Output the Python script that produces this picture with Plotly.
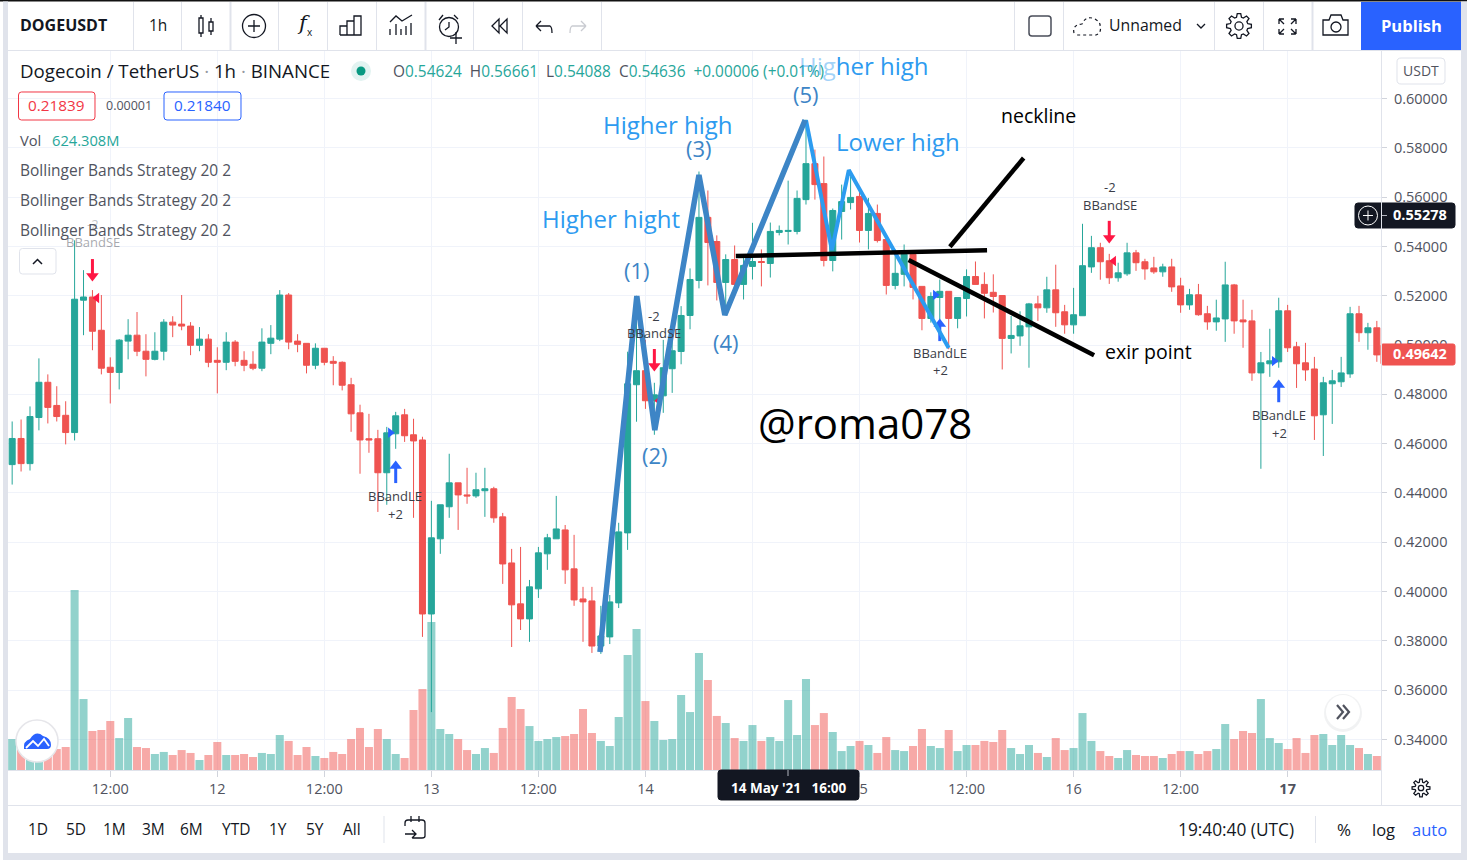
# -*- coding: utf-8 -*-
import math
import re

import pandas as pd
import plotly.graph_objects as go

# hourly candles DOGEUSDT
candle_open = [
    .4515, .4621, .4519, .4706, .4849, .4755, .4715, .4645, .5182, .5195, .5060, .4910, .4889, .5016, .5040, .4975,
    .4942, .4975, .5093, .5085, .5077, .4999, .5024, .4938, .4930, .5012, .4938, .4922, .4906, .5007, .5024, .5203,
    .5016, .5007, .4918, .4987, .4934, .4930, .4839, .4725, .4620, .4620, .4482, .4640, .4717, .4636, .4615, .3909,
    .4214, .4344, .4441, .4392, .4388, .4409, .4417, .4303, .4116, .3950, .3889, .4011, .4153, .4214, .4250, .4092,
    .3970, .3962, .3779, .3816, .3954, .4238, .4839, .4896, .4774, .4794, .4904, .4974, .5120, .5262, .5518, .5420,
    .5254, .5347, .5246, .5319, .5339, .5331, .5457, .5461, .5461, .5590, .5736, .5655, .5343, .5542, .5578, .5603,
    .5465, .5534, .5428, .5242, .5287, .5368, .5238, .5108, .5193, .5218, .5108, .5189, .5278, .5246, .5214, .5201,
    .5027, .5037, .5074, .5167, .5151, .5224, .5135, .5082, .5119, .5317, .5395, .5342, .5273, .5289, .5374, .5338,
    .5313, .5297, .5317, .5240, .5163, .5204, .5127, .5094, .5106, .5244, .5102, .5098, .4887, .4924, .4932, .5139,
    .4993, .4928, .4903, .4717, .4843, .4851, .4883, .5127, .5050, .5070,
]
candle_high = [
    .4690, .4698, .4751, .4946, .4881, .4833, .4772, .5425, .5304, .5223, .5203, .4950, .5024, .5105, .5134, .5044,
    .5052, .5105, .5117, .5203, .5093, .5073, .5044, .4991, .5052, .5020, .4975, .4975, .5068, .5081, .5223, .5211,
    .5044, .5007, .5007, .4987, .4955, .4934, .4867, .4758, .4721, .4656, .4668, .4729, .4741, .4701, .4628, .4368,
    .4352, .4559, .4441, .4502, .4482, .4502, .4425, .4319, .4173, .4181, .4047, .4181, .4234, .4388, .4270, .4230,
    .4019, .4019, .3942, .3986, .4279, .4973, .5200, .5021, .4847, .5021, .5048, .5158, .5311, .5704, .5627, .5445,
    .5368, .5404, .5361, .5496, .5388, .5497, .5485, .5667, .5627, .5915, .5793, .5765, .5554, .5651, .5685, .5631,
    .5597, .5570, .5428, .5388, .5408, .5368, .5238, .5214, .5266, .5218, .5193, .5307, .5339, .5295, .5287, .5201,
    .5118, .5137, .5171, .5200, .5277, .5326, .5163, .5232, .5492, .5443, .5415, .5370, .5334, .5415, .5386, .5350,
    .5358, .5330, .5350, .5273, .5228, .5248, .5159, .5184, .5338, .5248, .5184, .5143, .4972, .5066, .5192, .5163,
    .5013, .5009, .4952, .4871, .4899, .4952, .5155, .5159, .5090, .5098,
]
candle_low = [
    .4434, .4487, .4491, .4654, .4682, .4690, .4597, .4613, .5040, .4979, .4881, .4763, .4820, .4942, .4955, .4873,
    .4938, .4938, .5032, .5060, .4959, .4975, .4910, .4804, .4898, .4914, .4894, .4898, .4894, .4963, .5016, .4983,
    .4971, .4885, .4902, .4918, .4837, .4816, .4648, .4478, .4563, .4323, .4352, .4579, .4607, .4299, .3816, .3511,
    .4153, .4299, .4250, .4356, .4380, .4303, .4279, .4031, .3775, .3844, .3796, .3974, .4088, .4214, .4031, .3942,
    .3796, .3751, .3747, .3787, .3933, .4169, .4689, .4741, .4636, .4725, .4806, .4922, .5064, .5230, .5242, .5181,
    .5145, .5205, .5185, .5266, .5238, .5274, .5445, .5408, .5449, .5570, .5590, .5319, .5299, .5428, .5550, .5416,
    .5388, .5416, .5205, .5226, .5238, .5185, .5060, .5091, .5104, .4983, .5068, .5116, .5246, .5108, .5132, .4901,
    .4966, .4997, .4908, .5098, .5131, .5074, .5046, .5046, .5119, .5293, .5265, .5248, .5257, .5281, .5301, .5265,
    .5289, .5277, .5216, .5131, .5143, .5119, .5062, .5058, .5013, .5046, .4989, .4855, .4498, .4871, .4908, .4972,
    .4826, .4855, .4615, .4550, .4680, .4830, .4867, .5013, .4981, .4932,
]
candle_close = [
    .4621, .4519, .4710, .4849, .4747, .4710, .4645, .5186, .5195, .5056, .4906, .4889, .5020, .5040, .4975, .4942,
    .4975, .5093, .5081, .5077, .4999, .5024, .4930, .4930, .5012, .4934, .4918, .4906, .5012, .5028, .5203, .5012,
    .5003, .4918, .4987, .4930, .4926, .4837, .4721, .4615, .4615, .4482, .4644, .4713, .4632, .4611, .3909, .4218,
    .4352, .4441, .4392, .4388, .4413, .4417, .4299, .4112, .3946, .3889, .4019, .4157, .4218, .4254, .4088, .3966,
    .3958, .3779, .3820, .3958, .4242, .4843, .4896, .4774, .4798, .4908, .4977, .5120, .5266, .5518, .5416, .5254,
    .5347, .5246, .5323, .5339, .5335, .5461, .5465, .5465, .5595, .5736, .5651, .5343, .5546, .5582, .5599, .5465,
    .5534, .5424, .5242, .5291, .5368, .5234, .5108, .5197, .5218, .5108, .5193, .5278, .5246, .5210, .5197, .5027,
    .5039, .5078, .5167, .5151, .5224, .5131, .5082, .5123, .5322, .5395, .5338, .5273, .5293, .5374, .5334, .5309,
    .5297, .5317, .5236, .5163, .5204, .5123, .5094, .5110, .5244, .5098, .5094, .4887, .4928, .4936, .5139, .4989,
    .4924, .4899, .4713, .4847, .4855, .4887, .5127, .5050, .5070, .4960,
]
# volume in millions
volume = [
    276, 238, 107, 89, 149, 187, 205, 1605, 633, 348, 357, 437, 285, 464, 205, 196, 143, 161, 134, 178, 152, 89,
    134, 250, 134, 134, 143, 116, 152, 143, 312, 259, 134, 205, 125, 107, 161, 143, 276, 375, 205, 366, 276, 143,
    107, 535, 722, 1320, 366, 321, 276, 178, 143, 196, 152, 375, 651, 544, 392, 259, 276, 294, 303, 321, 544, 330,
    259, 214, 473, 1026, 1258, 615, 437, 268, 276, 669, 517, 1044, 803, 482, 419, 285, 259, 401, 259, 294, 259,
    624, 312, 812, 401, 508, 339, 169, 214, 259, 223, 152, 294, 178, 169, 214, 366, 214, 196, 357, 169, 223, 223,
    259, 250, 357, 196, 143, 223, 152, 116, 285, 178, 196, 508, 259, 169, 125, 107, 178, 134, 125, 125, 107, 143,
    169, 169, 143, 169, 187, 410, 276, 348, 330, 633, 285, 241, 187, 285, 152, 312, 321, 223, 312, 223, 196, 143, 125,
]
candle_time = pd.date_range("2021-05-11 01:00", periods=len(candle_open), freq="h")

price_ticks = [.34, .36, .38, .40, .42, .44, .46, .48, .50, .52, .54, .56, .58, .60]
time_ticks = ["2021-05-11 12:00", "2021-05-12 00:00", "2021-05-12 12:00", "2021-05-13 00:00", "2021-05-13 12:00",
              "2021-05-14 00:00", "2021-05-14 12:00", "2021-05-15 00:00", "2021-05-15 12:00", "2021-05-16 00:00",
              "2021-05-16 12:00", "2021-05-17 00:00"]
time_labels = ["12:00", "12", "12:00", "13", "12:00", "14", "", "15", "12:00", "16", "12:00", "<b>17</b>"]

# strategy signals (candle number + price of shaft and head)
sell_idx = [9, 72, 123]
sell_shaft = [.5312, .4947, .5467]
sell_head = [.5280, .4915, .5434]
buy_idx = [43, 104, 142]
buy_shaft = [.4477, .5053, .4805]
buy_head = [.4509, .5085, .4838]
sell_tick_time = ["2021-05-11 10:30", "2021-05-14 01:30", "2021-05-16 04:30"]
sell_tick_price = [.5191, .4774, .5341]
buy_tick_time = ["2021-05-12 19:24", "2021-05-15 08:30", "2021-05-16 22:30"]
buy_tick_price = [.4644, .5203, .4935]

# lines drawn by hand on the screenshot
wave_time = ["2021-05-13 18:54", "2021-05-13 23:02", "2021-05-14 01:03", "2021-05-14 06:00", "2021-05-14 08:54",
             "2021-05-14 17:54"]
wave_price = [.3755, .5199, .4655, .5690, .5122, .5913]
drop_time = ["2021-05-14 18:00", "2021-05-14 20:54", "2021-05-14 22:48", "2021-05-15 10:00"]
drop_price = [.5913, .5385, .5710, .4988]
neck_time = ["2021-05-14 10:08", "2021-05-15 14:18"]
neck_price = [.5361, .5385]
pointer_time = ["2021-05-15 10:08", "2021-05-15 18:24"]
pointer_price = [.5399, .5759]
exit_time = ["2021-05-15 05:30", "2021-05-16 02:18"]
exit_price = [.5345, .4959]

W, H = 1467, 860
L, R, T, B = 8, 1381, 51, 770
FONT = "Open Sans"
GREEN, RED = "#26a69a", "#ef5350"
INK, GREY, EDGE, GRID = "#131722", "#50535e", "#e0e3eb", "#f0f3fa"
BLUE = "#2962ff"
NOTE = "#2d9bf0"
WAVE = "#3d85c6"


def px(x):
    return (x - L) / (R - L)


def py(y):
    return (B - y) / (B - T)


def pth(d):
    # svg path in screen pixels -> paper coordinates
    out, is_x = [], True
    for tok in re.findall(r"[A-Za-z]|-?[\d.]+", d):
        if tok.isalpha():
            out.append(tok)
            is_x = True
        else:
            out.append(f"{px(float(tok)):.5f}" if is_x else f"{py(float(tok)):.5f}")
            is_x = not is_x
    return " ".join(out)


shapes, notes = [], []


def path(d, line=INK, w=1.3, fill=None, dash=None):
    shapes.append(dict(type="path", path=pth(d), xref="paper", yref="paper", layer="above",
                       line=dict(color=line, width=w, dash=dash) if w else dict(width=0),
                       fillcolor=fill or "rgba(0,0,0,0)"))


def rect(x0, y0, x1, y1, fill):
    shapes.append(dict(type="rect", xref="paper", yref="paper", layer="above", x0=px(x0), x1=px(x1),
                       y0=py(y0), y1=py(y1), fillcolor=fill, line=dict(width=0)))


def rrect(x0, y0, x1, y1, r, line, fill=None, w=1):
    path(f"M {x0+r} {y0} L {x1-r} {y0} Q {x1} {y0} {x1} {y0+r} L {x1} {y1-r} Q {x1} {y1} {x1-r} {y1} "
         f"L {x0+r} {y1} Q {x0} {y1} {x0} {y1-r} L {x0} {y0+r} Q {x0} {y0} {x0+r} {y0} Z", line, w, fill)


def circ(cx, cy, r, line=INK, w=1.3, fill=None):
    shapes.append(dict(type="circle", xref="paper", yref="paper", layer="above", x0=px(cx-r), x1=px(cx+r),
                       y0=py(cy+r), y1=py(cy-r), fillcolor=fill or "rgba(0,0,0,0)",
                       line=dict(color=line, width=w) if w else dict(width=0)))


def txt(x, y, s, size=14, color=INK, anchor="center", font=FONT):
    notes.append(dict(xref="paper", yref="paper", x=px(x), y=py(y - .035 * size), text=s, showarrow=False,
                      xanchor=anchor, yanchor="middle", font=dict(family=font, size=size, color=color), borderpad=0))


def gear(cx, cy, r0, r1, teeth=8):
    pts = []
    for i in range(teeth):
        a = 2 * math.pi * i / teeth
        for da, r in ((-.28, r0), (-.14, r1), (.14, r1), (.28, r0)):
            pts.append((cx + r * math.cos(a + da), cy + r * math.sin(a + da)))
    path("M " + " L ".join(f"{a:.2f} {b:.2f}" for a, b in pts) + " Z")
    circ(cx, cy, r0 * .45)


# page frame
rect(0, 0, W, 1.5, "#111111")
rect(3, 1.5, 8, 860, EDGE)
rect(1461, 1.5, W, 860, EDGE)
rect(3, 853, W, 860, EDGE)

# toolbar
rect(8, 50, 1461, 51, EDGE)
for sx in [133, 181, 278, 327, 376, 473, 522, 601, 1014, 1063, 1214, 1263]:
    rect(sx, 2, sx + 1, 50, EDGE)
for sx in [229.5, 424.5, 1311.5]:
    rect(sx, 2, sx + 2, 50, EDGE)
rect(1361, 2, 1461, 50, BLUE)
txt(19, 26, "<b>DOGEUSDT</b>", 16, INK, "left")
txt(158, 26, "1h", 15.5)
txt(1411, 26, "<b>Publish</b>", 16.5, "#ffffff")
# candle icon
path("M 199 18 L 203 18 L 203 33 L 199 33 Z M 201 15 L 201 18 M 201 33 L 201 37 "
     "M 209 22 L 213 22 L 213 31 L 209 31 Z M 211 18 L 211 22 M 211 31 L 211 35")
circ(254, 26, 11.5)
path("M 248 26 L 260 26 M 254 20 L 254 32")
txt(303, 24, "<i>f</i>", 21, INK, font="DejaVu Serif")
txt(310, 32, "x", 10)
path("M 340 35 L 340 26 L 347 26 L 347 35 M 347 35 L 347 21 L 354 21 L 354 35 M 354 35 L 354 16 L 361 16 L 361 35 Z "
     "M 340 35 L 361 35")
path("M 390 22 L 396 16 L 402 21 L 412 15 M 390 35 L 390 29 M 396 35 L 396 24 M 401 35 L 401 29 M 406 35 L 406 26 "
     "M 411 35 L 411 23")
circ(449, 27, 9.5)
path("M 449 22 L 449 27 L 445 30 M 439 20 L 443 15 M 458 19 L 454 15 M 450 38 L 462 38 M 456 32 L 456 44")
path("M 492 26 L 499 19 L 499 33 Z M 500 26 L 507 19 L 507 33 Z")
path("M 536 26 L 550 26 Q 552 27 552 33 M 536 26 L 541 21 M 536 26 L 541 31")
path("M 586 26 L 572 26 Q 570 27 570 33 M 586 26 L 581 21 M 586 26 L 581 31", "#c9cbd1")
rrect(1029, 16, 1051, 36, 3, "#4a4e5a", None, 1.5)
path("M 1074 33 Q 1072 25 1082 24 Q 1086 15 1095 19 Q 1100 22 1100 25 Q 1102 33 1096 35 L 1076 35", INK, 1.2, None, "dot")
txt(1108, 26, "Unnamed", 15.8, INK, "left")
path("M 1197 24 L 1201 28 L 1205 24")
gear(1239, 26, 9, 12.5)
path("M 1279 19 L 1284 19 M 1279 19 L 1279 24 M 1279 19 L 1284 24 M 1296 19 L 1291 19 M 1296 19 L 1296 24 "
     "M 1296 19 L 1291 24 M 1279 34 L 1284 34 M 1279 34 L 1279 29 M 1279 34 L 1284 29 M 1296 34 L 1291 34 "
     "M 1296 34 L 1296 29 M 1296 34 L 1291 29")
path("M 1323 20 L 1329 20 L 1331 15 L 1341 15 L 1343 20 L 1348 20 L 1348 35 L 1323 35 Z")
circ(1336, 27, 5)

# legend
txt(19, 71, 'Dogecoin / TetherUS <span style="color:#9598a1">·</span> 1h <span style="color:#9598a1">·</span> BINANCE',
    18.7, INK, "left")
circ(361, 71, 10, "#ffffff", 0, "#e2f3f1")
circ(361, 71, 4.5, "#089981", 0, "#089981")
ohlc = ""
for lab, val in [("O", "0.54624"), ("H", "0.56661"), ("L", "0.54088"), ("C", "0.54636")]:
    ohlc += f'<span style="color:#50535e">{lab}</span>{val}  '
txt(392, 72, ohlc + "+0.00006 (+0.01%)", 15.4, GREEN, "left")
rrect(18.5, 92, 95, 120, 3, "#f23645")
txt(56.5, 106, "0.21839", 15.3, "#f23645")
txt(129, 106, "0.00001", 12.5, GREY)
rrect(164, 92, 241, 120, 3, BLUE)
txt(202.5, 106, "0.21840", 15.3, BLUE)
txt(19, 141, "Vol", 14.7, GREY, "left")
txt(51, 141, "624.308M", 14.7, GREEN, "left")
for ly in [171, 201, 231]:
    txt(19, ly, "Bollinger Bands Strategy 20 2", 15.5, GREY, "left")
rrect(19.5, 248.5, 56, 274, 3, EDGE, "#ffffff")
path("M 33 264 L 37.5 259.5 L 42 264", INK, 1.5)
rrect(1397, 58, 1445, 84, 4, EDGE, "#ffffff")
txt(1421, 71, "USDT", 14, GREY)

# strategy text
txt(93, 224, "-2", 13, "rgba(80,83,94,.35)")
txt(93, 242, "BBandSE", 13, "rgba(80,83,94,.5)")
for sx, a, b, ya, yb in [(654, "-2", "BBandSE", 316, 333), (1110, "-2", "BBandSE", 187, 205),
                         (395, "BBandLE", "+2", 496, 514), (940, "BBandLE", "+2", 353, 370),
                         (1279, "BBandLE", "+2", 415, 433)]:
    txt(sx, ya, a, 13, "#3a3d47")
    txt(sx, yb, b, 13, "#3a3d47")

# hand written notes
txt(864, 66.5, '<span style="color:rgba(45,155,240,.45)">Hig</span>her high', 24, NOTE)
txt(668, 125.5, "Higher high", 24, NOTE)
txt(611, 219.5, "Higher hight", 24, NOTE)
txt(898, 142.5, "Lower high", 24, NOTE)
for sx, sy, s in [(637, 271, "(1)"), (655, 456, "(2)"), (699, 149, "(3)"), (726, 343, "(4)"), (806, 95, "(5)")]:
    txt(sx, sy, s, 22, WAVE)
txt(1038, 116, "neckline", 19.5, "#000000")
txt(1148, 352, "exir point", 19.5, "#000000")
txt(865, 424, "@roma078", 42, "#000000")

# price labels on the right
rrect(1355, 203, 1455, 228, 3, INK, INK)
circ(1368, 215.5, 9.5, "#ffffff", 1)
path("M 1363 215.5 L 1373 215.5 M 1368 210.5 L 1368 220.5", "#ffffff", 1)
path("M 1382 215.5 L 1387 215.5", "#b2b5be", 1)
txt(1420, 215.5, "<b>0.55278</b>", 14.5, "#ffffff")
rrect(1381, 344, 1455, 365, 2, RED, RED)
txt(1420, 354.5, "<b>0.49642</b>", 14.5, "#ffffff")

# time axis / bottom bar
rect(1381, 51, 1382, 805, EDGE)
rect(8, 770, 1381, 771, EDGE)
rect(8, 805, 1461, 806, EDGE)
rrect(718, 770, 859, 800, 3, INK, INK)
rect(787.5, 770, 788.5, 776, "#b2b5be")
txt(788.5, 788, "<b>14 May '21   16:00</b>", 13.5, "#ffffff")
gear(1421, 788, 6, 9)
for sx, s in [(38, "1D"), (76, "5D"), (114, "1M"), (153, "3M"), (192, "6M"), (236, "YTD"), (278, "1Y"), (315, "5Y"),
              (352, "All")]:
    txt(sx, 830, s, 15.5, INK)
rect(383.5, 816, 384.5, 843, EDGE)
path("M 405 826 L 405 823 Q 405 820 408 820 L 422 820 Q 425 820 425 823 L 425 836 Q 425 838 422 838 L 412 838 "
     "M 411 816 L 411 822 M 419 816 L 419 822 M 405 834 L 416 834 M 412 830 L 416 834 L 412 838")
txt(1236, 830, "19:40:40 (UTC)", 17.3, INK)
rect(1315, 816, 1316, 843, EDGE)
txt(1344, 830, "%", 17, INK)
txt(1383, 830, "log", 16.5, INK)
txt(1429, 830, "auto", 16.5, BLUE)

# floating buttons
circ(1343, 713, 19, "#ffffff", 0, "rgba(120,123,134,.10)")
circ(1343, 712, 17, "#ffffff", 0, "#ffffff")
path("M 1337 705 L 1343 712 L 1337 719 M 1343 705 L 1349 712 L 1343 719", "#50535e", 2.2)
circ(37, 741, 21, "#e6e6ea", 1.5, "#ffffff")
path("M 24 749 Q 23 741 30 739 Q 36 730 43 736 Q 51 738 51 745 Q 51 749 47 749 Z", BLUE, 0, BLUE)
path("M 26 748 L 33 741 L 38 746 L 44 739 L 49 746", "#ffffff", 1.8)

up_vol = [c >= o for o, c in zip(candle_open, candle_close)]
vol_colors = ["rgba(38,166,154,.5)" if u else "rgba(239,83,80,.5)" for u in up_vol]

fig = go.Figure()
fig.add_trace(go.Bar(x=candle_time, y=volume, marker_color=vol_colors, marker_line_width=0, yaxis="y"))
fig.add_trace(go.Candlestick(x=candle_time, open=candle_open, high=candle_high, low=candle_low, close=candle_close,
                             yaxis="y2",
                             increasing=dict(line=dict(color=GREEN, width=1), fillcolor=GREEN),
                             decreasing=dict(line=dict(color=RED, width=1), fillcolor=RED)))

# signals
sell_time = [candle_time[i] for i in sell_idx]
buy_time = [candle_time[i] for i in buy_idx]
for xs, ys, sym, col, size in [(sell_time, sell_shaft, "line-ns", "#ff1744", 13), (sell_time, sell_head, "triangle-down", "#ff1744", 11),
                               (buy_time, buy_shaft, "line-ns", BLUE, 13), (buy_time, buy_head, "triangle-up", BLUE, 11),
                               (sell_tick_time, sell_tick_price, "triangle-left", "#ff1744", 9),
                               (buy_tick_time, buy_tick_price, "triangle-right", BLUE, 9)]:
    fig.add_trace(go.Scatter(x=xs, y=ys, mode="markers", yaxis="y2",
                             marker=dict(symbol=sym, size=size, color=col, line=dict(color=col, width=3 if sym == "line-ns" else 0))))

# drawings
for xs, ys, col, w in [(drop_time, drop_price, "#2c9cf0", 4), (wave_time, wave_price, WAVE, 5.5),
                       (neck_time, neck_price, "#000000", 4.5), (pointer_time, pointer_price, "#000000", 4.5),
                       (exit_time, exit_price, "#000000", 4.5)]:
    fig.add_trace(go.Scatter(x=xs, y=ys, mode="lines", yaxis="y2", line=dict(color=col, width=w)))

fig.update_layout(
    width=W, height=H, showlegend=False, paper_bgcolor="#ffffff", plot_bgcolor="#ffffff",
    margin=dict(l=L, r=W - R, t=T, b=H - B),
    bargap=.1, boxgap=.18, boxgroupgap=.18, font=dict(family=FONT, color=GREY),
    shapes=shapes, annotations=notes, hovermode=False,
    xaxis=dict(type="date", range=["2021-05-11 00:32", "2021-05-17 10:28"], rangeslider=dict(visible=False),
               tickvals=time_ticks, ticktext=time_labels, tickfont=dict(size=14.5, color=GREY), tickangle=0,
               showgrid=True, gridcolor=GRID, gridwidth=1, zeroline=False, showline=False,
               ticks="outside", ticklen=6, tickcolor="#d1d4dc", tickwidth=1),
    yaxis=dict(range=[0, 6413], visible=False, showgrid=False, zeroline=False, fixedrange=True),
    yaxis2=dict(range=[.3276, .6193], overlaying="y", side="right", anchor="x", tickvals=price_ticks,
                tickformat=".5f", tickfont=dict(size=14.5, color=GREY), showgrid=True, gridcolor=GRID, gridwidth=1,
                zeroline=False, showline=False, ticks="outside", ticklen=5, tickcolor="#d1d4dc", tickwidth=1,
                ticklabelstandoff=4),
)

fig.write_html("out.html", config=dict(displayModeBar=False),
               post_script="document.body.style.margin='0';document.body.style.overflow='hidden';")
